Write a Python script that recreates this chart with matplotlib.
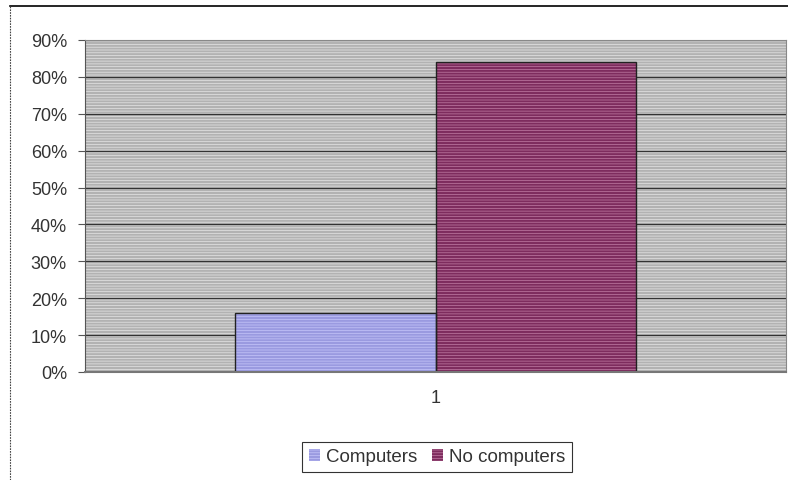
import matplotlib.pyplot as plt
from matplotlib.patches import Rectangle
from matplotlib.lines import Line2D
import numpy as np

# data
categories = ["1"]
series_names = ["Computers", "No computers"]
series_values = [16, 84]
yticks = [0, 10, 20, 30, 40, 50, 60, 70, 80, 90]

base_colors = ["#c6c6fa", "#c27ea6"]
stripe_colors = ["#9a9ae0", "#7e2c5e"]

plt.rcParams['font.family'] = ['Liberation Sans', 'DejaVu Sans']
plt.rcParams['hatch.linewidth'] = 1.5

fig = plt.figure(figsize=(7.88, 4.81), dpi=100)
ax = fig.add_axes([85/788, 1-373/481, 701/788, 332/481])

# striped grey plot background
bg = Rectangle((0, 0), 1, 1, transform=ax.transAxes, facecolor="#e6e6e6",
               edgecolor="#b2b2b2", hatch="------", linewidth=0, zorder=0.1)
ax.add_patch(bg)

# gridlines
for t in yticks[1:]:
    ax.axhline(t, color="#333333", lw=0.9, zorder=0.6)

w = 0.286
x = np.arange(len(categories))
offsets = [-w/2, w/2]
for i in range(len(series_names)):
    ax.bar(x + offsets[i], [series_values[i]], w, facecolor=base_colors[i],
           edgecolor=stripe_colors[i], hatch="------", linewidth=0, zorder=2,
           label=series_names[i])
    ax.bar(x + offsets[i], [series_values[i]], w, fill=False,
           edgecolor="#222222", linewidth=1.0, zorder=2.5)

ax.set_xlim(-0.5, 0.5)
ax.set_ylim(0, 90)
ax.set_yticks(yticks)
ax.set_yticklabels(["%d%%" % t for t in yticks])
ax.set_xticks(x)
ax.set_xticklabels(categories)
ax.tick_params(axis='y', length=5, width=0.8, color="#555555", pad=8,
               labelsize=13, labelcolor="#333333")
ax.tick_params(axis='x', length=0, pad=12, labelsize=13, labelcolor="#333333")

ax.spines["left"].set_color("#555555")
ax.spines["left"].set_linestyle((0, (2, 1)))
ax.spines["bottom"].set_color("#777777")
ax.spines["bottom"].set_linewidth(1.5)
ax.spines["right"].set_color("#888888")
ax.spines["right"].set_linestyle((0, (2, 1)))
ax.spines["top"].set_color("#888888")

# figure border
fig.add_artist(Line2D([10/788, 1], [1-7/481, 1-7/481], transform=fig.transFigure,
                      color="black", lw=1.2))
fig.add_artist(Line2D([10/788, 10/788], [0, 1-7/481], transform=fig.transFigure,
                      color="#444444", lw=0.8, linestyle=(0, (1.5, 1))))

leg = fig.legend(loc="center", bbox_to_anchor=(437/788, 1-458/481), ncol=2,
                 fontsize=13.5, frameon=True, fancybox=False, edgecolor="black",
                 handlelength=0.6, handleheight=0.6, handletextpad=0.3,
                 columnspacing=0.8, borderpad=0.35)
leg.get_frame().set_linewidth(0.8)
for t in leg.get_texts():
    t.set_color("#333333")

fig.savefig("out.png", dpi=100)
